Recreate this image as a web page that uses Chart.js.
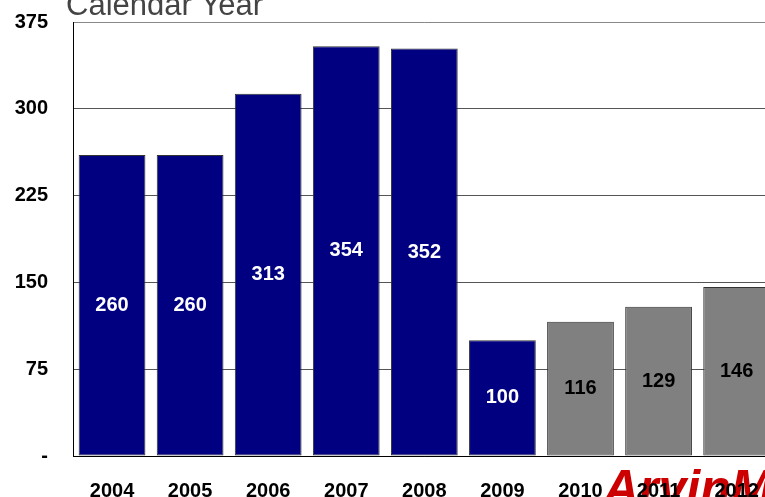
<!DOCTYPE html>
<html>
<head>
<meta charset="utf-8">
<script src="https://cdn.jsdelivr.net/npm/chart.js@4/dist/chart.umd.min.js"></script>
<style>
  html, body { margin: 0; padding: 0; background: #fff; overflow: hidden; }
  #wrap { width: 765px; height: 497px; overflow: hidden; position: relative; }
  canvas { display: block; }
</style>
</head>
<body>
<div id="wrap"><canvas id="chart" width="782" height="497"></canvas></div>
<script>
// Units by calendar year
const years = ['2004', '2005', '2006', '2007', '2008', '2009', '2010', '2011', '2012'];
const units = [260, 260, 313, 354, 352, 100, 116, 129, 146];
const forecast = [false, false, false, false, false, false, true, true, true];
const yTicks = [0, 75, 150, 225, 300, 375];

const FONT = '"Liberation Sans", Arial, sans-serif';
const NAVY = '#000080';
const GRAY = '#808080';

// background title + logo text (behind scales and bars)
const backdrop = {
  id: 'backdrop',
  beforeDraw(chart) {
    const ctx = chart.ctx;
    ctx.save();
    ctx.fillStyle = '#444';
    ctx.font = '31px ' + FONT;
    ctx.textBaseline = 'alphabetic';
    ctx.textAlign = 'left';
    ctx.fillText('Calendar Year', 66, 15);
    ctx.fillStyle = '#cc0000';
    ctx.font = 'italic bold 50px ' + FONT;
    ctx.fillText('ArvinMeritor', 603, 505);
    ctx.restore();
  }
};

// value labels in the middle of each bar
const barLabels = {
  id: 'barLabels',
  afterDatasetsDraw(chart) {
    const ctx = chart.ctx;
    const meta = chart.getDatasetMeta(0);
    ctx.save();
    ctx.font = 'bold 20px ' + FONT;
    ctx.textAlign = 'center';
    ctx.textBaseline = 'middle';
    meta.data.forEach((bar, i) => {
      const mid = (bar.y + bar.base) / 2;
      ctx.fillStyle = forecast[i] ? '#000' : '#fff';
      ctx.fillText(String(units[i]), bar.x, mid);
    });
    ctx.restore();
  }
};

new Chart(document.getElementById('chart'), {
  type: 'bar',
  data: {
    labels: years,
    datasets: [{
      data: units,
      backgroundColor: forecast.map(f => f ? GRAY : NAVY),
      borderColor: '#333',
      borderWidth: 1,
      borderSkipped: false,
      categoryPercentage: 1,
      barPercentage: 0.855
    }]
  },
  options: {
    responsive: false,
    animation: false,
    layout: { padding: { top: 22, right: 2, bottom: 0, left: 0 } },
    plugins: {
      legend: { display: false },
      tooltip: { enabled: false }
    },
    scales: {
      x: {
        grid: { display: false, drawTicks: false },
        border: { display: true, color: '#000', width: 1 },
        ticks: { color: '#000', font: { family: FONT, size: 20, weight: 'bold' }, padding: 23, maxRotation: 0 },
        afterFit(scale) { scale.height = 41; }
      },
      y: {
        min: 0,
        max: 375,
        afterBuildTicks(scale) { scale.ticks = yTicks.map(v => ({ value: v })); },
        grid: {
          drawTicks: false,
          color: c => c.tick.value === 375 ? '#888' : (c.tick.value === 0 ? '#000' : '#555'),
          lineWidth: 1
        },
        border: { display: true, color: '#000', width: 1 },
        ticks: {
          color: '#000',
          font: { family: FONT, size: 20, weight: 'bold' },
          padding: 25,
          callback: v => v === 0 ? '-' : v
        },
        afterFit(scale) {
          scale.width = 73;
          scale.paddingTop = 0;
          scale.paddingBottom = 0;
        }
      }
    }
  },
  plugins: [backdrop, barLabels]
});
</script>
</body>
</html>
